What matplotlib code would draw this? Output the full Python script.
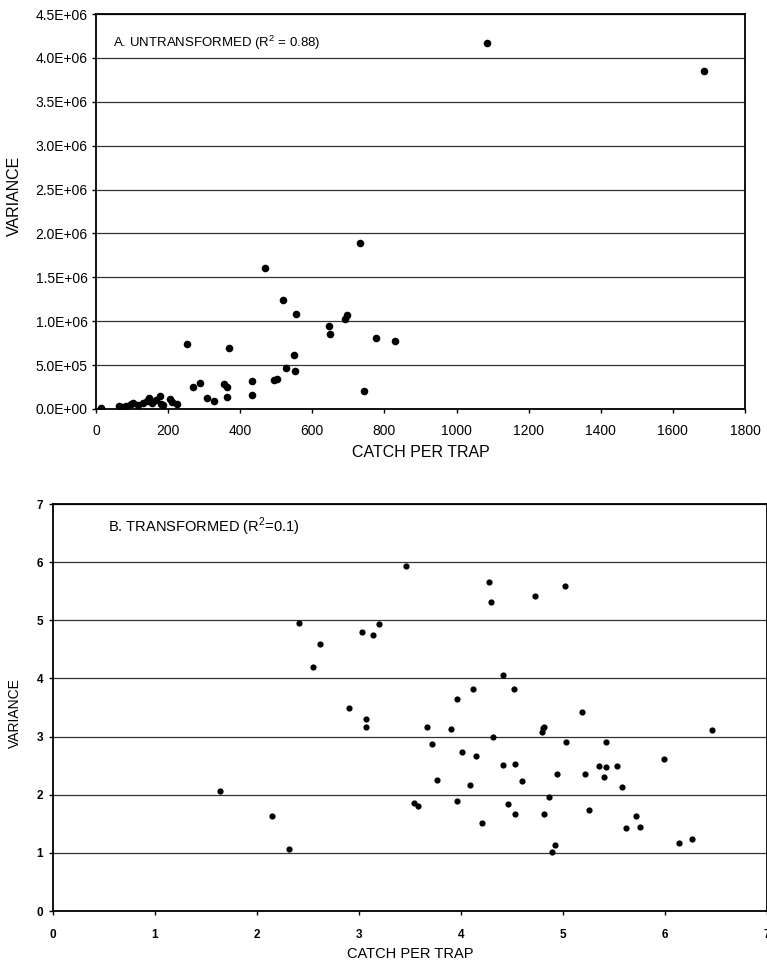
import matplotlib
matplotlib.use("Agg")
import matplotlib.pyplot as plt
from matplotlib.ticker import FuncFormatter, MultipleLocator

plt.rcParams['font.family'] = ['Liberation Sans', 'DejaVu Sans']
plt.rcParams['mathtext.fontset'] = 'custom'
plt.rcParams['mathtext.rm'] = 'Liberation Sans'

# Panel A: untransformed
catch_a = [15, 65, 74, 84, 96, 104, 116, 130, 141, 147, 154, 166, 177, 180, 186,
           205, 212, 225, 252, 270, 289, 307, 328, 354, 363, 363, 370, 432, 434,
           470, 493, 503, 518, 528, 550, 552, 555, 646, 650, 690, 696, 732, 742,
           776, 828, 1084, 1686]
var_a = [1e4, 3e4, 2e4, 3.4e4, 6e4, 6.8e4, 5e4, 6.8e4, 9e4, 1.3e5, 6.8e4, 1.07e5,
         1.44e5, 6e4, 4.2e4, 1.18e5, 8e4, 6e4, 7.37e5, 2.5e5, 2.95e5, 1.2e5, 8.9e4,
         2.8e5, 2.5e5, 1.36e5, 6.98e5, 1.62e5, 3.17e5, 1.61e6, 3.3e5, 3.45e5,
         1.24e6, 4.7e5, 6.2e5, 4.3e5, 1.08e6, 9.49e5, 8.52e5, 1.025e6, 1.075e6,
         1.895e6, 2.0e5, 8.05e5, 7.78e5, 4.17e6, 3.846e6]

# Panel B: transformed
catch_b = [1.64, 2.15, 2.31, 2.41, 2.55, 2.62, 2.905, 3.03, 3.07, 3.07, 3.14, 3.20,
           3.46, 4.27, 4.29, 4.73, 5.02, 4.41, 4.12, 4.52, 3.96, 5.19, 3.67, 3.90,
           4.80, 4.81, 4.79, 4.31, 6.46, 3.72, 5.03, 5.42, 4.01, 4.15, 5.99, 4.41,
           4.53, 5.35, 5.42, 5.53, 4.94, 5.22, 5.40, 3.76, 4.60, 4.09, 5.58, 4.86,
           3.54, 3.58, 3.96, 4.46, 4.53, 4.81, 5.25, 5.72, 4.21, 5.62, 5.75, 4.92,
           4.89, 6.14, 6.26]
var_b = [2.06, 1.64, 1.07, 4.95, 4.20, 4.60, 3.49, 4.80, 3.30, 3.16, 4.74, 4.94,
         5.93, 5.65, 5.31, 5.42, 5.59, 4.06, 3.82, 3.82, 3.64, 3.42, 3.17, 3.13,
         3.14, 3.17, 3.08, 3.00, 3.11, 2.88, 2.91, 2.91, 2.73, 2.67, 2.61, 2.51,
         2.53, 2.50, 2.48, 2.49, 2.36, 2.35, 2.30, 2.25, 2.24, 2.16, 2.14, 1.96,
         1.85, 1.81, 1.90, 1.84, 1.67, 1.66, 1.73, 1.63, 1.51, 1.42, 1.45, 1.13,
         1.02, 1.17, 1.24]

title_a = "A. UNTRANSFORMED (R$^2$ = 0.88)"
title_b = "B. TRANSFORMED (R$^2$=0.1)"
xlabel = "CATCH PER TRAP"
ylabel = "VARIANCE"

fig = plt.figure(figsize=(7.67, 9.67), dpi=100)

# ---- Panel A ----
axA = fig.add_axes([96/767, 1-409/967, (745-96)/767, (409-14)/967])
axA.scatter(catch_a, var_a, s=30, color='black', zorder=3, linewidths=0)
axA.set_xlim(0, 1800)
axA.set_ylim(0, 4.5e6)
axA.xaxis.set_major_locator(MultipleLocator(200))
axA.yaxis.set_major_locator(MultipleLocator(5e5))
axA.yaxis.set_major_formatter(FuncFormatter(lambda v, p: "%.1E" % v))
axA.grid(axis='y', color='#333333', linewidth=0.9)
axA.set_axisbelow(True)
for s in axA.spines.values():
    s.set_linewidth(1.3)
    s.set_color('black')
axA.tick_params(direction='out', length=3, width=1, labelsize=10, pad=3)
axA.tick_params(axis='x', pad=8)
axA.set_xlabel(xlabel, fontsize=11.5)
axA.set_ylabel(ylabel, fontsize=11.5)
axA.xaxis.set_label_coords(0.5, -0.109)
axA.xaxis.label.set_verticalalignment('center')
axA.yaxis.set_label_coords(-0.125, 0.54)
axA.yaxis.label.set_verticalalignment('center')
axA.text(113/649 - 96/649 + 0.0, (409-43)/395, title_a, transform=axA.transAxes,
         fontsize=9.5, ha='left', va='center')

# ---- Panel B ----
axB = fig.add_axes([53/767, 1-911/967, (767-53)/767, (911-504)/967])
axB.scatter(catch_b, var_b, s=20, color='black', zorder=3, linewidths=0)
axB.set_xlim(0, 7)
axB.set_ylim(0, 7)
axB.xaxis.set_major_locator(MultipleLocator(1))
axB.yaxis.set_major_locator(MultipleLocator(1))
axB.grid(axis='y', color='#333333', linewidth=0.9)
axB.set_axisbelow(True)
for s in axB.spines.values():
    s.set_linewidth(1.3)
    s.set_color('black')
axB.tick_params(direction='out', length=3, width=1, labelsize=8.5, pad=4)
axB.tick_params(axis='x', pad=10)
for lab in axB.get_xticklabels() + axB.get_yticklabels():
    lab.set_fontweight('bold')
axB.set_xlabel(xlabel, fontsize=10.5)
axB.set_ylabel(ylabel, fontsize=10)
axB.xaxis.set_label_coords(0.5, -0.106)
axB.xaxis.label.set_verticalalignment('center')
axB.yaxis.set_label_coords(-0.053, 0.486)
axB.yaxis.label.set_verticalalignment('center')
axB.text((108-53)/714, (911-527)/407, title_b, transform=axB.transAxes,
         fontsize=10.5, ha='left', va='center')

fig.savefig("out.png", dpi=100)
